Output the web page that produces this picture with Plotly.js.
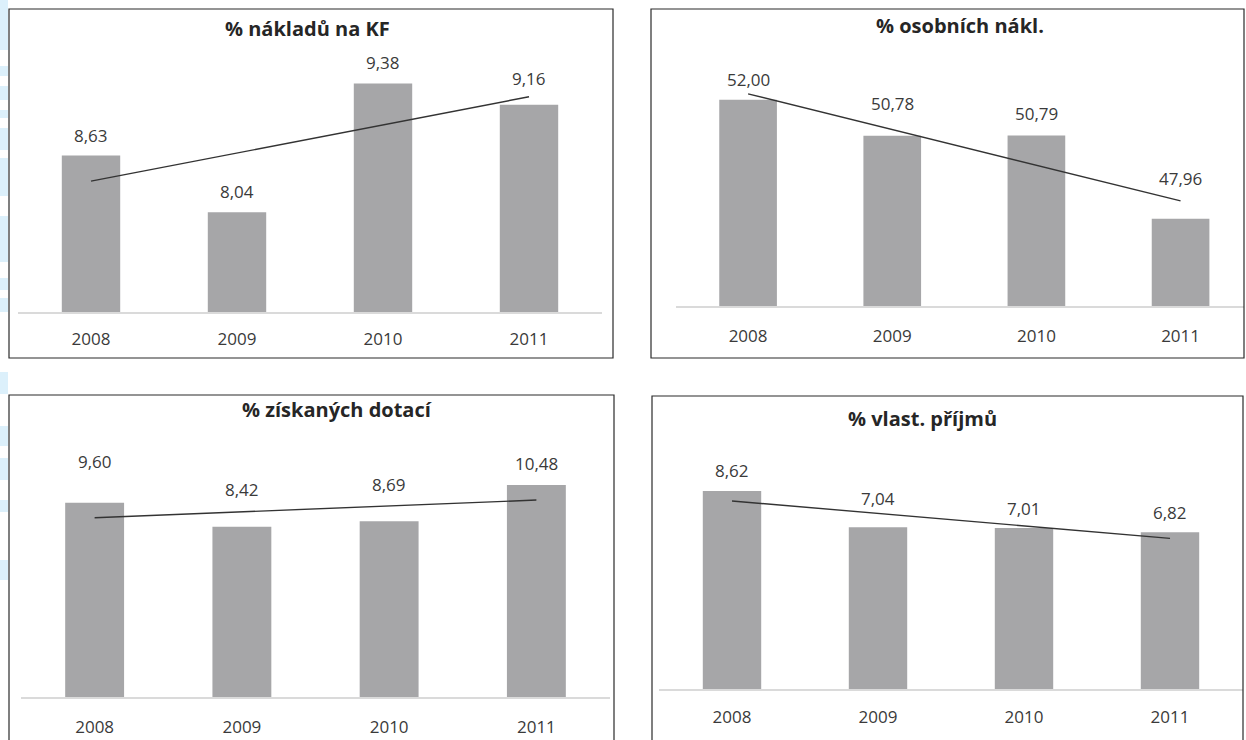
<!DOCTYPE html>
<html>
<head>
<meta charset="utf-8">
<script src="https://cdn.plot.ly/plotly-3.0.1.min.js"></script>
<style>
html,body{margin:0;padding:0;background:#fff;}
#chart{width:1246px;height:740px;}
</style>
</head>
<body>
<div id="chart"></div>
<script>
// ---- data ----
const years = ['2008', '2009', '2010', '2011'];
const nakladyKF = [8.63, 8.04, 9.38, 9.16];
const osobniNakl = [52.00, 50.78, 50.79, 47.96];
const ziskaneDotace = [9.60, 8.42, 8.69, 10.48];
const vlastPrijmy = [8.62, 7.04, 7.01, 6.82];
const panelTitles = ['% nákladů na KF', '% osobních nákl.', '% získaných dotací', '% vlast. příjmů'];
const seriesList = [nakladyKF, osobniNakl, ziskaneDotace, vlastPrijmy];

// ---- layout (pixel geometry, styles) ----
const W = 1246, H = 740;
const fx = p => p / W;
const fy = p => 1 - p / H;
const panels = [
  {xdom: [18, 602],  ydom: [24, 312],    yr: [7, 10],  xr: [-0.5, 3.5],  tx: 307, ty: 28,  border: [9, 9, 613, 358],    shifts: [20, 21, 21, 26], standoff: 11},
  {xdom: [676, 1244], ydom: [70.3, 306], yr: [45, 53], xr: [-0.5, 3.44], tx: 960, ty: 26,  border: [651, 9, 1244, 358],  shifts: [20, 32, 22, 40], standoff: 14},
  {xdom: [21, 610],  ydom: [454.2, 697], yr: [0, 12],  xr: [-0.5, 3.5],  tx: 337, ty: 409, border: [9, 395, 614, 760],  shifts: [41, 37, 37, 21], standoff: 14},
  {xdom: [659, 1243], ydom: [459.3, 689], yr: [0, 10], xr: [-0.5, 3.5],  tx: 922, ty: 418, border: [652, 396, 1243, 760], shifts: [21, 29, 19, 20], standoff: 12}
];
const FONT = 'Open Sans, Noto Sans, sans-serif';
const BAR_COLOR = '#a6a6a8';
const TEXT_COLOR = '#3a3a3a';

function linearTrend(vals) {
  const n = vals.length;
  const xs = vals.map((_, i) => i + 1);
  const mx = xs.reduce((a, b) => a + b, 0) / n;
  const my = vals.reduce((a, b) => a + b, 0) / n;
  let num = 0, den = 0;
  for (let i = 0; i < n; i++) { num += (xs[i] - mx) * (vals[i] - my); den += (xs[i] - mx) ** 2; }
  const slope = num / den;
  return xs.map(x => my + slope * (x - mx));
}
const fmt = v => v.toFixed(2).replace('.', ',');

const traces = [];
const layout = {
  width: W, height: H,
  margin: {l: 0, r: 0, t: 0, b: 0},
  paper_bgcolor: '#ffffff',
  plot_bgcolor: 'rgba(0,0,0,0)',
  showlegend: false,
  annotations: [],
  shapes: []
};

// light blue watermark strip at left edge
const wm = [[0, 50], [66, 76], [86, 100], [110, 118], [128, 150], [158, 196], [216, 262], [278, 290], [298, 312], [372, 394], [426, 446], [458, 480], [500, 512], [560, 580]];
wm.forEach(([a, b]) => layout.shapes.push({type: 'rect', xref: 'paper', yref: 'paper', x0: 0, x1: fx(8), y0: fy(b), y1: fy(a), fillcolor: '#dcf0fb', line: {width: 0}, layer: 'below'}));

panels.forEach((p, k) => {
  const n = k + 1;
  const xa = 'x' + (n === 1 ? '' : n), ya = 'y' + (n === 1 ? '' : n);
  const xk = 'xaxis' + (n === 1 ? '' : n), yk = 'yaxis' + (n === 1 ? '' : n);
  const vals = seriesList[k];
  traces.push({type: 'bar', x: years, y: vals, xaxis: xa, yaxis: ya, width: 0.4,
    marker: {color: BAR_COLOR, line: {width: 0}}, hoverinfo: 'skip'});
  traces.push({type: 'scatter', mode: 'lines', x: years, y: linearTrend(vals), xaxis: xa, yaxis: ya,
    line: {color: '#333333', width: 1.4}, hoverinfo: 'skip'});
  layout[xk] = {domain: [fx(p.xdom[0]), fx(p.xdom[1])], anchor: ya, type: 'category', range: p.xr,
    showgrid: false, zeroline: false, showline: true, linecolor: '#dadada', linewidth: 1.5,
    ticks: '', ticklabelstandoff: p.standoff, tickfont: {family: FONT, size: 17, color: TEXT_COLOR}, fixedrange: true};
  layout[yk] = {domain: [fy(p.ydom[1]), fy(p.ydom[0])], anchor: xa, range: p.yr, showticklabels: false,
    showgrid: false, zeroline: false, showline: false, ticks: '', fixedrange: true};
  vals.forEach((v, i) => layout.annotations.push({xref: xa, yref: ya, x: i, y: v, text: fmt(v),
    showarrow: false, yanchor: 'middle', yshift: p.shifts[i], font: {family: FONT, size: 17, color: TEXT_COLOR}}));
  layout.annotations.push({xref: 'paper', yref: 'paper', x: fx(p.tx), y: fy(p.ty), text: '<b>' + panelTitles[k] + '</b>',
    showarrow: false, xanchor: 'center', yanchor: 'middle', font: {family: FONT, size: 20, color: '#262626'}});
  const b = p.border;
  layout.shapes.push({type: 'rect', xref: 'paper', yref: 'paper', x0: fx(b[0]), x1: fx(b[2]), y0: fy(b[3]), y1: fy(b[1]),
    line: {color: '#2b2b2b', width: 1.2}, fillcolor: 'rgba(0,0,0,0)'});
});

Plotly.newPlot('chart', traces, layout, {displayModeBar: false, staticPlot: true});
</script>
</body>
</html>
